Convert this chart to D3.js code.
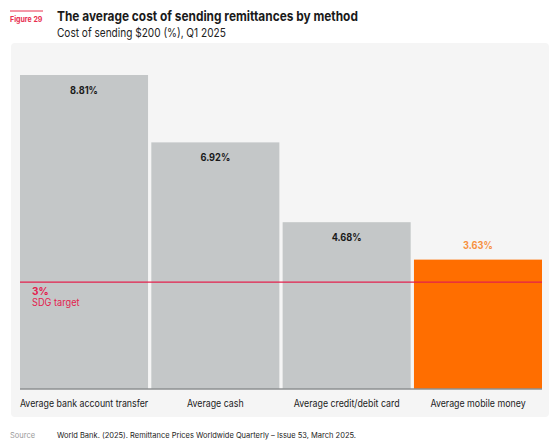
<!DOCTYPE html>
<html><head><meta charset="utf-8">
<script src="https://cdn.jsdelivr.net/npm/d3@7"></script>
<style>
body{margin:0;background:#fff;font-family:Inter,"Noto Sans",sans-serif;}
</style></head>
<body><svg id="c" width="560" height="447"></svg>
<script>
const categories = ["Average bank account transfer","Average cash","Average credit/debit card","Average mobile money"];
const values = [8.81, 6.92, 4.68, 3.63];
const valueLabels = ["8.81%","6.92%","4.68%","3.63%"];
const highlight = [false,false,false,true];
const targetValue = 3;
const targetLabels = ["3%","SDG target"];

const svg = d3.select("#c");
const font = "Inter, 'Noto Sans', sans-serif";

// condense text horizontally to mimic the narrower reference typeface
function condense(sel, f){
  sel.each(function(){
    const len = this.getComputedTextLength();
    d3.select(this).attr("textLength", len*f).attr("lengthAdjust","spacingAndGlyphs");
  });
  return sel;
}

// header
svg.append("line").attr("x1",10).attr("x2",43).attr("y1",11).attr("y2",11).attr("stroke","#e8304f").attr("stroke-width",1);
condense(svg.append("text").attr("x",10).attr("y",22).text("Figure 29").attr("font-family",font).attr("font-size",8).attr("font-weight",700).attr("fill","#e8304f"), 0.88);
condense(svg.append("text").attr("x",57).attr("y",21).text("The average cost of sending remittances by method").attr("font-family",font).attr("font-size",13.5).attr("font-weight",700).attr("fill","#1a1a1a"), 0.88);
condense(svg.append("text").attr("x",57).attr("y",37).text("Cost of sending $200 (%), Q1 2025").attr("font-family",font).attr("font-size",12).attr("fill","#222"), 0.84);

// panel
svg.append("rect").attr("x",11).attr("y",43).attr("width",538).attr("height",374).attr("rx",4).attr("fill","#f5f5f5");

const x = d3.scaleBand().domain(categories).range([20,542]).paddingInner(0.025).paddingOuter(0);
const y = d3.scaleLinear().domain([0,8.81]).range([389,75]);

const g = svg.append("g");
g.selectAll("rect.bar").data(categories).join("rect").attr("class","bar")
  .attr("x",d=>x(d)).attr("width",x.bandwidth())
  .attr("y",(d,i)=>y(values[i])).attr("height",(d,i)=>y(0)-y(values[i]))
  .attr("fill",(d,i)=>highlight[i]?"#ff6e00":"#c4c7c8");

condense(g.selectAll("text.val").data(categories).join("text").attr("class","val")
  .attr("x",d=>x(d)+x.bandwidth()/2)
  .attr("y",(d,i)=>highlight[i]? y(values[i])-11 : y(values[i])+19)
  .attr("text-anchor","middle").attr("font-family",font).attr("font-size",10).attr("font-weight",700)
  .attr("fill",(d,i)=>highlight[i]?"#f7913f":"#1a1a1a")
  .text((d,i)=>valueLabels[i]), 0.92);

// baseline
svg.append("line").attr("x1",20).attr("x2",542).attr("y1",y(0)).attr("y2",y(0)).attr("stroke","#8e9192").attr("stroke-width",1.5);

// x axis labels
const xAxis = d3.axisBottom(x).tickSize(0).tickPadding(11);
const ax = svg.append("g").attr("transform",`translate(0,${y(0)})`).call(xAxis);
ax.select(".domain").remove();
condense(ax.selectAll("text").attr("font-family",font).attr("font-size",10.5).attr("fill","#1a1a1a"), 0.84);

// target line
svg.append("line").attr("x1",20).attr("x2",542).attr("y1",y(targetValue)).attr("y2",y(targetValue)).attr("stroke","#e3204d").attr("stroke-width",1.2);
svg.append("text").attr("x",32).attr("y",y(targetValue)+13).text(targetLabels[0]).attr("font-family",font).attr("font-size",10).attr("font-weight",700).attr("fill","#e3204d");
condense(svg.append("text").attr("x",32).attr("y",y(targetValue)+24).text(targetLabels[1]).attr("font-family",font).attr("font-size",10).attr("fill","#e3204d"), 0.92);

// source
svg.append("text").attr("x",10).attr("y",438).text("Source").attr("font-family",font).attr("font-size",7.5).attr("fill","#999");
svg.append("text").attr("x",57).attr("y",438).text("World Bank. (2025). Remittance Prices Worldwide Quarterly – Issue 53, March 2025.").attr("font-family",font).attr("font-size",7.5).attr("fill","#222");
</script></body></html>
